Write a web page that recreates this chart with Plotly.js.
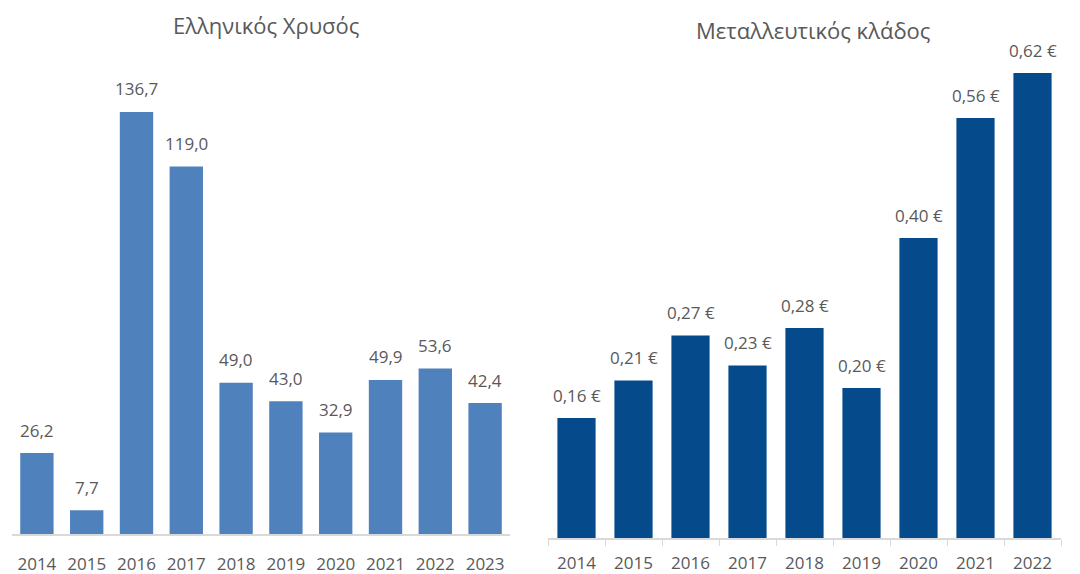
<!DOCTYPE html>
<html><head><meta charset="utf-8">
<script src="https://cdn.plot.ly/plotly-3.0.1.min.js"></script>
<style>html,body{margin:0;padding:0;background:#fff}#chart{width:1080px;height:574px}</style>
</head><body><div id="chart"></div>
<script>
const yearsGold = ['2014','2015','2016','2017','2018','2019','2020','2021','2022','2023'];
const valuesGold = [26.2, 7.7, 136.7, 119.0, 49.0, 43.0, 32.9, 49.9, 53.6, 42.4];
const yearsMining = ['2014','2015','2016','2017','2018','2019','2020','2021','2022'];
const valuesMining = [0.16, 0.21, 0.27, 0.23, 0.28, 0.20, 0.40, 0.56, 0.62];
const titleGold = 'Ελληνικός Χρυσός';
const titleMining = 'Μεταλλευτικός κλάδος';

const FONT = 'Open Sans, Noto Sans, DejaVu Sans, sans-serif';
const TXT = '#595959';

const traces = [
  {type:'bar', x:yearsGold, y:valuesGold, xaxis:'x', yaxis:'y',
   marker:{color:'#4F81BD'}, hoverinfo:'none'},
  {type:'bar', x:yearsMining, y:valuesMining, xaxis:'x2', yaxis:'y2',
   marker:{color:'#054A8B'}, hoverinfo:'none'}
];

const labelAnns = [];
yearsGold.forEach((yr, i) => labelAnns.push({
  x: i, y: valuesGold[i], xref:'x', yref:'y', showarrow:false,
  text: valuesGold[i].toFixed(1).replace('.', ','),
  yanchor:'middle', xanchor:'center', yshift:23,
  font:{family:FONT,size:17,color:TXT}
}));
yearsMining.forEach((yr, i) => labelAnns.push({
  x: i, y: valuesMining[i], xref:'x2', yref:'y2', showarrow:false,
  text: valuesMining[i].toFixed(2).replace('.', ',') + ' €',
  yanchor:'middle', xanchor:'center', yshift:23,
  font:{family:FONT,size:17,color:TXT}
}));

const layout = {
  width:1080, height:574, margin:{l:0,r:0,t:0,b:0},
  paper_bgcolor:'#fff', plot_bgcolor:'#fff', showlegend:false,
  separators:',.', font:{family:FONT,color:TXT},
  bargap:0.33,
  xaxis:{domain:[12/1080,510/1080], anchor:'y', type:'category',
    range:[-0.5, yearsGold.length-0.5], autorange:false,
    showline:true, linecolor:'#d9d9d9', linewidth:1.5, ticks:'', showgrid:false,
    tickfont:{family:FONT,size:17,color:TXT}, ticklabelstandoff:14, fixedrange:true},
  yaxis:{domain:[40/574, 534/574], anchor:'x', range:[0,160], visible:false, fixedrange:true},
  xaxis2:{domain:[548/1080,1061/1080], anchor:'y2', type:'category',
    range:[-0.5, yearsMining.length-0.5], autorange:false,
    showline:true, linecolor:'#d9d9d9', linewidth:1.5, ticks:'outside', ticklen:6,
    tickcolor:'#d9d9d9', tickson:'boundaries', showgrid:false,
    tickfont:{family:FONT,size:17,color:TXT}, ticklabelstandoff:9, fixedrange:true},
  yaxis2:{domain:[36/574, 534/574], anchor:'x2', range:[0,0.664], visible:false, fixedrange:true},
  annotations:[
    {text:titleGold, xref:'paper', yref:'paper', x:266/1080, y:1-25/574,
     xanchor:'center', yanchor:'middle', showarrow:false, font:{family:FONT,size:22,color:TXT}},
    {text:titleMining, xref:'paper', yref:'paper', x:813/1080, y:1-30/574,
     xanchor:'center', yanchor:'middle', showarrow:false, font:{family:FONT,size:22,color:TXT}}
  ].concat(labelAnns)
};
Plotly.newPlot('chart', traces, layout, {displayModeBar:false, staticPlot:true});
</script></body></html>
